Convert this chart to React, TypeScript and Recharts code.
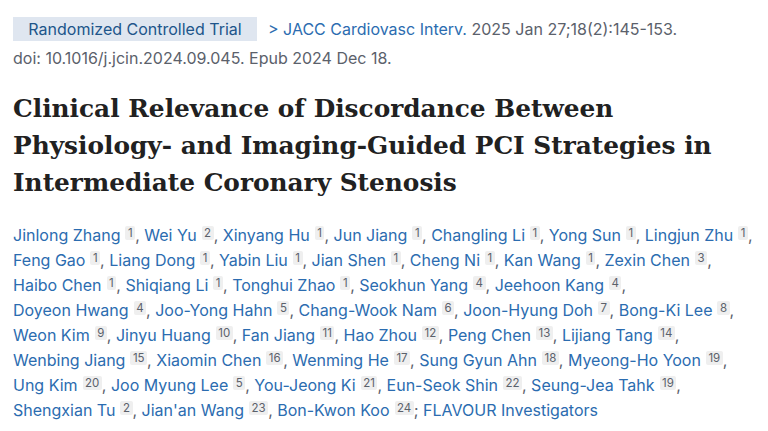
import React from "react";
import { Surface, Text } from "recharts";

const badgeLabel = "Randomized Controlled Trial";
const journalName = "JACC Cardiovasc Interv.";
const citation = " 2025 Jan 27;18(2):145-153.";
const doiLine = "doi: 10.1016/j.jcin.2024.09.045. Epub 2024 Dec 18.";

const titleLines = [
  "Clinical Relevance of Discordance Between",
  "Physiology- and Imaging-Guided PCI Strategies in",
  "Intermediate Coronary Stenosis",
];

const authorNames = [
  "Jinlong Zhang", "Wei Yu", "Xinyang Hu", "Jun Jiang", "Changling Li", "Yong Sun", "Lingjun Zhu",
  "Feng Gao", "Liang Dong", "Yabin Liu", "Jian Shen", "Cheng Ni", "Kan Wang", "Zexin Chen",
  "Haibo Chen", "Shiqiang Li", "Tonghui Zhao", "Seokhun Yang", "Jeehoon Kang",
  "Doyeon Hwang", "Joo-Yong Hahn", "Chang-Wook Nam", "Joon-Hyung Doh", "Bong-Ki Lee",
  "Weon Kim", "Jinyu Huang", "Fan Jiang", "Hao Zhou", "Peng Chen", "Lijiang Tang",
  "Wenbing Jiang", "Xiaomin Chen", "Wenming He", "Sung Gyun Ahn", "Myeong-Ho Yoon",
  "Ung Kim", "Joo Myung Lee", "You-Jeong Ki", "Eun-Seok Shin", "Seung-Jea Tahk",
  "Shengxian Tu", "Jian'an Wang", "Bon-Kwon Koo",
];

const authorAffils = [
  1, 2, 1, 1, 1, 1, 1,
  1, 1, 1, 1, 1, 1, 3,
  1, 1, 1, 4, 4,
  4, 5, 6, 7, 8,
  9, 10, 11, 12, 13, 14,
  15, 16, 17, 18, 19,
  20, 5, 21, 22, 19,
  2, 23, 24,
];

// index of the first author on each printed line
const rowStarts = [0, 7, 14, 19, 24, 30, 35, 40];
const groupName = "FLAVOUR Investigators";

const BLUE = "#2b6cb0";
const GRAY = "#5b616b";
const SANS = "Inter, 'Liberation Sans', sans-serif";

function Author({ i }: { i: number }) {
  const last = i === authorNames.length - 1;
  return (
    <span>
      <span style={{ color: BLUE }}>{authorNames[i]}</span>
      <span
        style={{
          display: "inline-block",
          marginLeft: 5,
          padding: "0 2.5px",
          background: "#efefef",
          color: GRAY,
          fontSize: 11.5,
          lineHeight: "14px",
          borderRadius: 2,
          verticalAlign: 4,
        }}
      >
        {authorAffils[i]}
      </span>
      <span style={{ color: GRAY }}>{last ? "; " : ", "}</span>
      {last && <span style={{ color: BLUE }}>{groupName}</span>}
    </span>
  );
}

export default function App() {
  const rows = rowStarts.map((s, r) => {
    const e = r + 1 < rowStarts.length ? rowStarts[r + 1] : authorNames.length;
    return Array.from({ length: e - s }, (_, k) => s + k);
  });

  return (
    <div
      style={{
        position: "absolute",
        left: 0,
        top: 0,
        width: 768,
        height: 431,
        background: "#fff",
        overflow: "hidden",
        fontFamily: SANS,
      }}
    >
      <div
        style={{
          position: "absolute",
          left: 13,
          top: 17,
          width: 244,
          height: 24,
          background: "#dfe6f0",
          color: "#20558a",
          fontSize: 16,
          lineHeight: "24px",
          textAlign: "center",
          whiteSpace: "nowrap",
        }}
      >
        {badgeLabel}
      </div>
      <div
        style={{
          position: "absolute",
          left: 268,
          top: 17,
          fontSize: 16,
          lineHeight: "24px",
          whiteSpace: "nowrap",
        }}
      >
        <span style={{ color: BLUE }}>{"> " + journalName}</span>
        <span style={{ color: GRAY }}>{citation}</span>
      </div>
      <div
        style={{
          position: "absolute",
          left: 13,
          top: 46,
          fontSize: 16,
          lineHeight: "24px",
          color: GRAY,
          whiteSpace: "nowrap",
        }}
      >
        {doiLine}
      </div>

      <div style={{ position: "absolute", left: 0, top: 85 }}>
        <Surface width={768} height={120}>
          {titleLines.map((line, i) => (
            <Text
              key={line}
              x={13}
              y={32 + i * 37}
              fontSize={24.8}
              fontWeight="bold"
              fontFamily="'DejaVu Serif', serif"
              fill="#212121"
            >
              {line}
            </Text>
          ))}
        </Surface>
      </div>

      <div style={{ position: "absolute", left: 13, top: 223, fontSize: 16, lineHeight: "25px" }}>
        {rows.map((row, r) => (
          <div key={r} style={{ whiteSpace: "nowrap", height: 25 }}>
            {row.map((i) => (
              <Author key={i} i={i} />
            ))}
          </div>
        ))}
      </div>
    </div>
  );
}
